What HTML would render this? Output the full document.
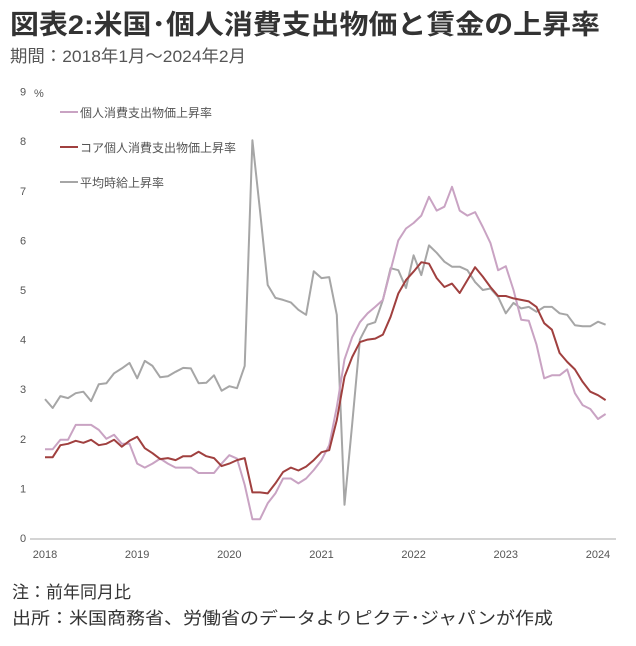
<!DOCTYPE html>
<html><head><meta charset="utf-8"><style>
body{margin:0;background:#fff;}
svg{display:block;font-family:"Liberation Sans","Noto Sans CJK JP",sans-serif;}
</style></head><body>
<svg id="chart" width="636" height="646" viewBox="0 0 636 646">
<text x="10" y="34" font-size="27" font-weight="bold" fill="#333" textLength="590" lengthAdjust="spacingAndGlyphs">図表2:米国･個人消費支出物価と賃金の上昇率</text>
<text x="10" y="62" font-size="17" fill="#555" textLength="236" lengthAdjust="spacingAndGlyphs">期間：2018年1月～2024年2月</text>
<text x="34" y="97" font-size="11" fill="#555">%</text>
<g id="yticks"></g>
<g id="xticks"></g>
<line x1="30" y1="539" x2="616" y2="539" stroke="#aaa" stroke-width="1"/>
<g id="series"></g>
<g>
<g><line x1="60" y1="112" x2="78" y2="112" stroke="#c9a3c3" stroke-width="2"/><text x="80" y="117" font-size="12" fill="#555">個人消費支出物価上昇率</text></g>
<g><line x1="60" y1="147" x2="78" y2="147" stroke="#a0403f" stroke-width="2"/><text x="80" y="152" font-size="12" fill="#555">コア個人消費支出物価上昇率</text></g>
<g><line x1="60" y1="182" x2="78" y2="182" stroke="#a6a6a6" stroke-width="2"/><text x="80" y="187" font-size="12" fill="#555">平均時給上昇率</text></g>
</g>
<text x="12" y="598" font-size="17" fill="#333">注：前年同月比</text>
<text x="12" y="624" font-size="17" fill="#333" textLength="541" lengthAdjust="spacingAndGlyphs">出所：米国商務省、労働省のデータよりピクテ･ジャパンが作成</text>
</svg>
<script>
const yTicks=[0,1,2,3,4,5,6,7,8,9];
const xYears=["2018","2019","2020","2021","2022","2023","2024"];
const pce=[1.79,1.79,1.98,1.98,2.28,2.28,2.28,2.18,2.0,2.08,1.9,1.9,
1.5,1.42,1.5,1.6,1.5,1.42,1.42,1.42,1.31,1.31,1.31,1.5,
1.67,1.6,1.07,0.38,0.38,0.7,0.9,1.2,1.2,1.1,1.2,1.37,
1.57,1.87,2.64,3.6,4.05,4.35,4.53,4.66,4.8,5.4,6.0,6.24,
6.35,6.5,6.88,6.6,6.68,7.08,6.6,6.5,6.57,6.27,5.95,5.4,
5.48,5.0,4.4,4.38,3.9,3.22,3.28,3.28,3.4,2.92,2.68,2.6,
2.4,2.5];
const core=[1.63,1.63,1.87,1.9,1.96,1.92,1.98,1.87,1.9,1.98,1.84,1.96,
2.04,1.81,1.71,1.59,1.61,1.57,1.65,1.65,1.74,1.65,1.61,1.45,
1.5,1.57,1.61,0.92,0.92,0.9,1.1,1.33,1.42,1.36,1.44,1.57,
1.73,1.77,2.38,3.25,3.65,3.95,4.0,4.02,4.1,4.46,4.93,5.2,
5.37,5.56,5.53,5.24,5.06,5.13,4.94,5.2,5.46,5.27,5.06,4.88,
4.88,4.83,4.8,4.77,4.66,4.33,4.2,3.73,3.55,3.4,3.15,2.95,
2.88,2.78];
const wage=[2.8,2.62,2.86,2.82,2.92,2.95,2.76,3.1,3.12,3.32,3.42,3.53,
3.22,3.57,3.47,3.24,3.26,3.35,3.43,3.42,3.12,3.13,3.28,2.97,
3.06,3.02,3.47,8.02,6.6,5.1,4.84,4.8,4.75,4.6,4.5,5.38,
5.24,5.26,4.5,0.67,2.3,4.0,4.3,4.35,4.8,5.44,5.4,5.04,
5.7,5.3,5.9,5.75,5.57,5.47,5.47,5.4,5.16,5.0,5.03,4.86,
4.53,4.74,4.63,4.66,4.56,4.66,4.66,4.53,4.5,4.29,4.27,4.27,
4.36,4.3];
const NS='http://www.w3.org/2000/svg';
const x=i=>45+i*7.68;
const y=v=>538-v*49.6;
const yt=document.getElementById('yticks');
yTicks.forEach(v=>{
 const t=document.createElementNS(NS,'text');
 
 
 t.setAttribute('x',20);t.setAttribute('y',y(v)+4);t.setAttribute('font-size','11');t.setAttribute('fill','#555');
 t.textContent=v;yt.appendChild(t);
});
const xt=document.getElementById('xticks');
xYears.forEach((lab,k)=>{
 const t=document.createElementNS(NS,'text');
 
 
 t.setAttribute('x',x(k*12));t.setAttribute('y',558);t.setAttribute('font-size','11');t.setAttribute('fill','#555');t.setAttribute('text-anchor','middle');
 t.textContent=lab;xt.appendChild(t);
});
const sg=document.getElementById('series');
[[wage,'#a6a6a6','wage-line'],[pce,'#c9a3c3','pce-line'],[core,'#a0403f','core-pce-line']].forEach(([d,c,n])=>{
 const p=document.createElementNS(NS,'polyline');
 
 
 p.setAttribute('points',d.map((v,i)=>x(i).toFixed(1)+','+y(v).toFixed(1)).join(' '));
 p.setAttribute('fill','none');p.setAttribute('stroke',c);p.setAttribute('stroke-width','2');p.setAttribute('stroke-linejoin','round');
 sg.appendChild(p);
});
</script>
</body></html>
